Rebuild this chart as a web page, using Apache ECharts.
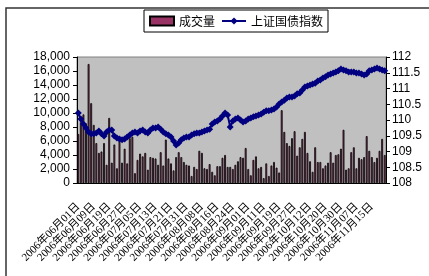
<!DOCTYPE html>
<html>
<head>
<meta charset="utf-8">
<script src="https://cdn.jsdelivr.net/npm/echarts@6/dist/echarts.min.js"></script>
<style>
  html, body { margin: 0; padding: 0; background: #fff; }
  #chart { width: 429px; height: 276px; }
</style>
</head>
<body>
<div id="chart"></div>
<script>
  // 交易日（按月）
  var junDays = ['01','02','05','06','07','08','09','12','13','14','15','16','19','20','21','22','23','26','27','28','29','30'];
  var julDays = ['03','04','05','06','07','10','11','12','13','14','17','18','19','20','21','24','25','26','27','28','31'];
  var augDays = ['01','02','03','04','07','08','09','10','11','14','15','16','17','18','21','22','23','24','25','28','29','30','31'];
  var sepDays = ['01','04','05','06','07','08','11','12','13','14','15','18','19','20','21','22','25','26','27','28','29'];
  var octDays = ['09','10','11','12','13','16','17','18','19','20','23','24','25','26','27','30','31'];
  var novDays = ['01','02','03','06','07','08','09','10','13','14','15','16','17','20','21','22'];

  // 成交量
  var volume = [
    7000, 8700, 9800, 8500, 17000, 11400, 8300, 5700, 4300, 4500,
    5700, 2600, 9300, 2900, 5500, 2100, 6400, 2900, 4900, 2800,
    6400, 6600, 1400, 3300, 4200, 3800, 4300, 1900, 3700, 3600,
    3500, 2600, 4400, 2500, 6200, 3500, 2800, 1800, 3700, 4400,
    3700, 3000, 2600, 2500, 1000, 2300, 2000, 4600, 4300, 2100,
    2000, 2700, 1600, 1100, 2400, 2400, 3600, 4000, 2300, 2300,
    2000, 2600, 3100, 3700, 3600, 5000, 2000, 1100, 3300, 3800,
    2100, 2300, 700, 2800, 1000, 2500, 3000, 2200, 1500, 10400,
    7300, 5700, 5300, 6400, 7400, 3900, 5100, 6300, 7300, 4300,
    3100, 1600, 5100, 3000, 3000, 2100, 2500, 2900, 4400, 2900,
    4000, 4100, 4900, 7600, 1900, 2100, 4400, 5100, 2100, 3600,
    3400, 3700, 6700, 4600, 3700, 3000, 3600, 4600, 6300, 4000
  ];

  // 上证国债指数
  var bondIndex = [
    110.22, 110.03, 109.87, 109.75, 109.62, 109.56, 109.56, 109.59, 109.65, 109.56,
    109.49, 109.62, 109.68, 109.68, 109.49, 109.43, 109.40, 109.37, 109.40, 109.46,
    109.52, 109.59, 109.62, 109.59, 109.65, 109.68, 109.62, 109.59, 109.68, 109.75,
    109.75, 109.78, 109.71, 109.62, 109.56, 109.52, 109.46, 109.33, 109.21, 109.27,
    109.37, 109.43, 109.46, 109.46, 109.52, 109.56, 109.59, 109.59, 109.62, 109.65,
    109.68, 109.71, 109.87, 109.94, 109.97, 110.03, 110.13, 110.22, 110.16, 109.78,
    109.97, 110.03, 110.06, 110.00, 109.94, 109.97, 110.03, 110.06, 110.10, 110.13,
    110.16, 110.19, 110.25, 110.29, 110.29, 110.32, 110.35, 110.41, 110.51, 110.57,
    110.63, 110.70, 110.73, 110.73, 110.76, 110.83, 110.86, 110.95, 111.05, 111.08,
    111.11, 111.14, 111.17, 111.24, 111.27, 111.33, 111.37, 111.43, 111.46, 111.49,
    111.52, 111.56, 111.62, 111.59, 111.56, 111.52, 111.52, 111.52, 111.49, 111.49,
    111.46, 111.43, 111.46, 111.56, 111.59, 111.62, 111.65, 111.62, 111.59, 111.56
  ];

  var months = [['06', junDays], ['07', julDays], ['08', augDays], ['09', sepDays], ['10', octDays], ['11', novDays]];
  var dates = [];
  months.forEach(function (m) {
    m[1].forEach(function (d) { dates.push('2006年' + m[0] + '月' + d + '日'); });
  });

  var myChart = echarts.init(document.getElementById('chart'));
  var cjk = "'Noto Sans CJK SC', sans-serif";

  var option = {
    backgroundColor: '#fff',
    animation: false,
    // 外框
    graphic: [{
      type: 'rect',
      shape: { x: 6, y: 8, width: 440, height: 300 },
      style: { fill: 'none', stroke: '#333', lineWidth: 1.5 },
      silent: true
    }],
    legend: {
      left: 144,
      top: 10,
      orient: 'horizontal',
      padding: [5, 5, 5, 5],
      borderColor: '#000',
      borderWidth: 1,
      itemWidth: 24,
      itemHeight: 9,
      itemGap: 6,
      textStyle: { fontFamily: cjk, fontSize: 12, color: '#000' },
      data: [
        { name: '成交量', icon: 'rect' },
        { name: '上证国债指数' }
      ]
    },
    grid: {
      left: 77,
      right: 43,
      top: 57,
      bottom: 93,
      containLabel: false,
      outerBoundsMode: 'none',
      show: true,
      backgroundColor: '#C0C0C0',
      borderColor: '#808080',
      borderWidth: 1
    },
    xAxis: {
      type: 'category',
      data: dates,
      boundaryGap: true,
      axisLine: { show: true, lineStyle: { color: '#000', width: 1 } },
      axisTick: { show: false },
      splitLine: { show: false },
      axisLabel: {
        interval: 5,
        rotate: 45,
        margin: 22,
        fontSize: 11,
        fontFamily: "'Liberation Serif', 'Noto Sans CJK SC', serif",
        color: '#000'
      }
    },
    yAxis: [
      {
        type: 'value',
        position: 'left',
        min: 0,
        max: 18000,
        interval: 2000,
        axisLine: { show: true, lineStyle: { color: '#000', width: 1 } },
        axisTick: { show: true, length: 4, lineStyle: { color: '#000' } },
        splitLine: { show: false },
        axisLabel: { margin: 7, fontSize: 12, fontFamily: 'Liberation Sans, Arial', color: '#000' }
      },
      {
        type: 'value',
        position: 'right',
        min: 108,
        max: 112,
        interval: 0.5,
        axisLine: { show: true, lineStyle: { color: '#000', width: 1 } },
        axisTick: { show: true, length: 4, lineStyle: { color: '#000' } },
        splitLine: { show: false },
        axisLabel: { margin: 6, fontSize: 12, fontFamily: 'Liberation Sans, Arial', color: '#000' }
      }
    ],
    series: [
      {
        name: '成交量',
        type: 'bar',
        yAxisIndex: 0,
        data: volume,
        barWidth: '72%',
        itemStyle: { color: '#993366', borderColor: '#000', borderWidth: 0.8 }
      },
      {
        name: '上证国债指数',
        type: 'line',
        yAxisIndex: 1,
        data: bondIndex,
        symbol: 'diamond',
        symbolSize: 7,
        showAllSymbol: true,
        lineStyle: { color: '#000080', width: 2 },
        itemStyle: { color: '#000080' }
      }
    ]
  };

  myChart.setOption(option);
  window.addEventListener('resize', function () { myChart.resize() });
</script>
</body>
</html>
